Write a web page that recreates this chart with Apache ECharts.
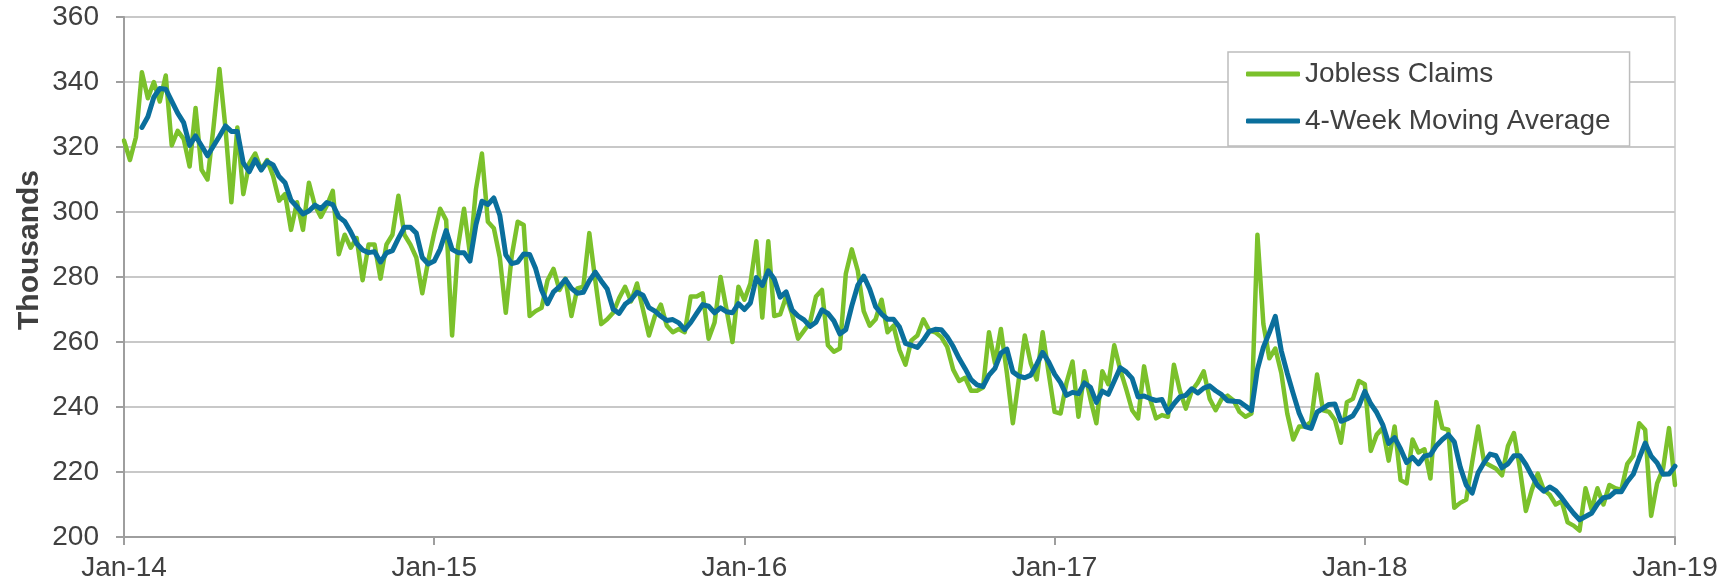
<!DOCTYPE html>
<html>
<head>
<meta charset="utf-8">
<script src="https://cdn.jsdelivr.net/npm/echarts@6/dist/echarts.min.js"></script>
<style>
html,body{margin:0;padding:0;background:#fff;}
#chart{width:1734px;height:584px;}
</style>
</head>
<body>
<div id="chart"></div>
<script>
// Weekly data, first week of Jan 2014 through last week of Dec 2018 (thousands)
const xTickLabels = ['Jan-14','Jan-15','Jan-16','Jan-17','Jan-18','Jan-19'];
const yTicks = [200,220,240,260,280,300,320,340,360];

const joblessClaims = [
322,316,323,343,335,340,334,342,320.5,325,322.5,314,332,313,310,326,344,326,303,326,
305.5,315,318,313,316,311,303.5,305.5,294.5,303,294.5,309,302,298.5,302,306.5,287,293,289,292,
279,290,290,279.5,290,293,305,293,290,286,275,285,293.5,301,297.5,262,289.5,301,287,307,
318,297,295,286,269,286.5,297,296,268,269.5,270.5,279,282.5,276,279.5,268,276.5,277,293.5,279,
265.5,267,269,273.5,277,272.5,278,270,262,268,271.5,265,263,264,263,274,274,275,261,266,
280,270,260,277,273,278,291,267.5,291,268,268.5,274,268.5,261,263.5,266,274,276,259,257,
258,281,288.5,282,269.5,265,267,273,263,265,257.5,253,260.5,262,267,263.5,263,261.5,258.5,251.5,
248,249,245,245,246,263,253.5,264,250.5,235,248.5,262,253.5,248.5,263,250.5,238.5,238,247.5,254,
237,251,242.5,235,251,247,259,251.5,245.5,239,236.5,252.5,242.5,236.5,237.5,237,253,245,239.5,245,
247.5,251,242.5,239,242.5,243.5,242,238.5,237,238,293,265.5,255,258,250.5,238,230,234,234,235.5,
250,239,238.5,236,229,241.5,242.5,248,247,226.5,231.5,233.5,223.5,234,217.5,216.5,230,226,227,218,
241.5,233.5,233,209,210.5,211.5,223,234,223,222,221,219,228,232,221,208,214.5,219.5,214.5,213,
210,211,204.5,203.5,202,215,208.5,215,210,216,215,214.5,222.5,225,235,233,206.5,216.5,221,233.5,
216
];

const movingAverage = [
null,null,null,326.0,329.3,335.3,338.0,337.8,334.1,330.4,327.5,320.5,323.4,320.4,317.3,320.3,323.3,326.5,324.8,324.8,
315.1,312.4,316.1,312.9,315.5,314.5,310.9,309.0,303.6,301.6,299.4,300.3,302.1,301.0,302.9,302.3,298.5,297.1,293.9,290.3,
288.3,287.5,287.8,284.6,287.4,288.1,291.9,295.3,295.3,293.5,286.0,284.0,284.9,288.6,294.3,288.5,287.5,287.5,284.9,296.1,
303.3,302.3,304.3,299.0,286.8,284.1,284.6,287.1,286.9,282.6,276.0,271.8,275.4,277.0,279.3,276.5,275.0,275.3,278.8,281.5,
278.8,276.3,270.1,268.8,271.6,273.0,275.3,274.4,270.6,269.5,267.9,266.6,266.9,265.9,263.8,266.0,268.8,271.5,271.0,269.0,
270.5,269.3,269.0,271.8,270.0,272.0,279.8,277.4,281.9,279.4,273.8,275.4,269.8,268.0,266.8,264.8,266.1,269.9,268.8,266.5,
262.5,263.8,271.1,277.4,280.3,276.3,270.9,268.6,267.0,267.0,264.6,259.6,259.0,258.3,260.6,263.3,263.9,263.8,261.6,258.6,
254.9,251.8,248.4,246.8,246.3,249.8,251.9,256.6,257.8,250.8,249.5,249.0,249.8,253.1,256.8,253.9,250.1,247.5,243.6,244.5,
244.1,247.4,246.1,241.4,244.9,243.9,248.0,252.1,250.8,248.8,243.1,243.4,242.6,242.0,242.3,238.4,241.0,243.1,243.6,245.6,
244.3,245.8,246.5,245.0,243.8,241.9,241.8,241.6,240.3,238.9,251.6,258.4,262.9,267.9,257.3,250.4,244.1,238.1,234.0,233.4,
238.4,239.6,240.8,240.9,235.6,236.3,237.3,240.3,244.8,241.0,238.3,234.6,228.8,230.6,227.1,222.9,224.5,222.5,224.9,225.3,
228.1,230.0,231.5,229.3,221.5,216.0,213.5,219.8,222.9,225.5,225.0,221.3,222.5,225.0,225.0,222.3,218.9,215.8,214.1,215.4,
214.3,212.1,209.6,207.3,205.3,206.3,207.3,210.1,212.1,212.4,214.0,213.9,217.0,219.3,224.3,228.9,224.9,222.8,219.3,219.4,
221.8
];

const seriesNames = ['Jobless Claims', '4-Week Moving Average'];
const yAxisTitle = 'Thousands';
const FONT = "'Liberation Sans', Arial, sans-serif";
const TEXT = '#404040';

const claimsData = joblessClaims.map((v, i) => [i, v]);
const maData = movingAverage.map((v, i) => [i, v]);

const chart = echarts.init(document.getElementById('chart'), null, {renderer: 'canvas'});
chart.setOption({
  animation: false,
  backgroundColor: '#ffffff',
  textStyle: {fontFamily: FONT},
  grid: {left: 124, right: 59, top: 17, bottom: 47, show: true, borderColor: '#C8C8C8', borderWidth: 1.5},
  graphic: [{
    type: 'text',
    x: 30, y: 250,
    rotation: Math.PI / 2,
    style: {
      text: yAxisTitle,
      fill: TEXT,
      font: "bold 30px 'Liberation Sans', Arial, sans-serif",
      align: 'center', verticalAlign: 'middle',
      textAlign: 'center', textVerticalAlign: 'middle'
    }
  }],
  legend: {
    orient: 'vertical',
    left: 1228, top: 52,
    padding: [8, 19, 11, 18],
    itemGap: 19,
    itemWidth: 54, itemHeight: 5,
    borderColor: '#BDBDBD', borderWidth: 1.5,
    backgroundColor: '#ffffff',
    textStyle: {fontSize: 28, color: TEXT, fontFamily: FONT},
    data: [
      {name: seriesNames[0], icon: 'roundRect'},
      {name: seriesNames[1], icon: 'roundRect'}
    ]
  },
  xAxis: {
    type: 'value',
    min: 0, max: 260, interval: 52,
    axisLine: {show: true, lineStyle: {color: '#9E9E9E', width: 2}},
    axisTick: {show: true, length: 8, lineStyle: {color: '#9E9E9E', width: 2}},
    splitLine: {show: false},
    axisLabel: {
      fontSize: 28, color: TEXT, fontFamily: FONT, margin: 17,
      formatter: v => xTickLabels[Math.round(v / 52)] || ''
    }
  },
  yAxis: {
    type: 'value',
    min: yTicks[0], max: yTicks[yTicks.length - 1], interval: 20,
    axisLine: {show: true, lineStyle: {color: '#9E9E9E', width: 2}},
    axisTick: {show: true, length: 8, lineStyle: {color: '#9E9E9E', width: 2}},
    splitLine: {show: true, lineStyle: {color: '#C8C8C8', width: 2}},
    axisLabel: {fontSize: 28, color: TEXT, fontFamily: FONT, margin: 25}
  },
  series: [
    {
      name: seriesNames[0], type: 'line', data: claimsData,
      symbol: 'none', color: '#7BC12B',
      lineStyle: {width: 4.5, color: '#7BC12B', join: 'round', cap: 'round'}
    },
    {
      name: seriesNames[1], type: 'line', data: maData,
      symbol: 'none', color: '#0A6F9C', connectNulls: false,
      lineStyle: {width: 5, color: '#0A6F9C', join: 'round', cap: 'round'}
    }
  ]
});
</script>
</body>
</html>
